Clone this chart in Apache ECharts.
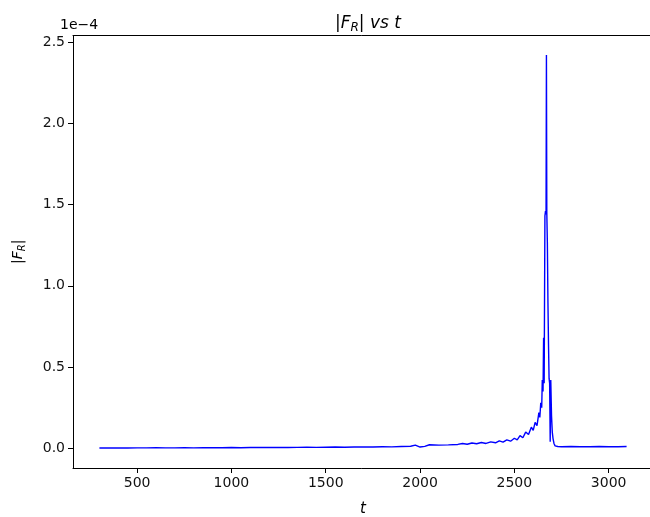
<!DOCTYPE html>
<html>
<head>
<meta charset="utf-8">
<script src="https://cdn.jsdelivr.net/npm/echarts@6/dist/echarts.min.js"></script>
<style>html,body{margin:0;padding:0;background:#fff;overflow:hidden}#c{width:650px;height:517px}</style>
</head>
<body>
<div id="c"></div>
<script>
// t values and |F_R| values (in units of 1e-4)
const tValues = [300,350,400,450,500,550,600,650,700,750,800,850,900,950,1000,1050,1100,1150,1200,1250,1300,1350,1400,1450,1500,1550,1600,1650,1700,1750,1800,1850,1900,1950,1975,2000,2025,2050,2100,2150,2200,2225,2250,2275,2300,2325,2350,2375,2400,2420,2440,2460,2480,2500,2515,2530,2545,2560,2575,2590,2600,2610,2620,2630,2635,2640,2645,2648,2652,2655,2658,2662,2665,2668,2670,2672,2675,2678,2681,2684,2687,2690,2693,2697,2701,2705,2710,2716,2722,2730,2750,2800,2850,2900,2950,3000,3050,3095];
const fValues = [0.002,0.002,0.003,0.002,0.003,0.003,0.004,0.003,0.003,0.004,0.003,0.004,0.004,0.004,0.005,0.004,0.005,0.005,0.005,0.006,0.005,0.006,0.007,0.006,0.007,0.008,0.007,0.008,0.009,0.008,0.010,0.009,0.011,0.013,0.020,0.008,0.012,0.022,0.020,0.021,0.024,0.030,0.025,0.033,0.028,0.036,0.030,0.040,0.034,0.046,0.038,0.052,0.044,0.062,0.052,0.078,0.065,0.100,0.085,0.130,0.110,0.160,0.140,0.220,0.190,0.280,0.250,0.420,0.350,0.680,0.400,1.430,1.460,1.440,2.420,1.450,1.260,0.900,0.640,0.430,0.400,0.040,0.420,0.200,0.100,0.060,0.030,0.015,0.012,0.011,0.010,0.011,0.010,0.010,0.011,0.010,0.010,0.011];
const xTicks = [500,1000,1500,2000,2500,3000];
const yTicks = [0,0.5,1.0,1.5,2.0,2.5];
const titleText = '{n||}{i|F}{s|R}{n||} {i|vs t}';
const offsetText = '1e\u22124';

const data = tValues.map((t, i) => [t, fValues[i]]);
const font = 'DejaVu Sans';
const chart = echarts.init(document.getElementById('c'), null, {renderer: 'canvas'});
chart.setOption({
  animation: false,
  backgroundColor: '#fff',
  title: {
    text: titleText,
    left: 363, top: 9, textAlign: 'center',
    textStyle: {
      fontFamily: font, fontSize: 17, fontWeight: 'normal', color: '#000',
      rich: {
        n: {fontFamily: font, fontSize: 17, fontWeight: 'normal', color: '#000'},
        i: {fontFamily: font, fontSize: 17, fontWeight: 'normal', fontStyle: 'italic', color: '#000'},
        s: {fontFamily: font, fontSize: 12, fontWeight: 'normal', fontStyle: 'italic', color: '#000', padding: [8, 0, 0, 0]}
      }
    }
  },
  graphic: [{
    type: 'text', left: 60, top: 18,
    style: {text: offsetText, font: '14px "DejaVu Sans"', fill: '#000'}
  }],
  grid: {left: 73, top: 35.5, right: -3, bottom: 49, show: false, containLabel: false, outerBoundsMode: 'none'},
  xAxis: [{
    type: 'value', min: 160, max: 3235,
    name: 't', nameLocation: 'middle', nameGap: 34,
    nameTextStyle: {fontFamily: font, fontSize: 15, fontStyle: 'italic', color: '#000'},
    axisLine: {show: true, onZero: false, lineStyle: {color: '#000', width: 1}},
    axisTick: {show: true, length: 5, customValues: xTicks, lineStyle: {color: '#000'}},
    axisLabel: {customValues: xTicks, fontFamily: font, fontSize: 14, color: '#111', margin: 8,
      formatter: v => String(v)},
    splitLine: {show: false}
  }, {
    type: 'value', min: 160, max: 3235, position: 'top',
    axisLine: {show: true, onZero: false, lineStyle: {color: '#000', width: 1}},
    axisTick: {show: false}, axisLabel: {show: false}, splitLine: {show: false}
  }],
  yAxis: {
    type: 'value', min: -0.121, max: 2.54,
    name: '{n||}{i|F}{s|R}{n||}', nameLocation: 'middle', nameGap: 46,
    nameTextStyle: {
      fontFamily: font, fontSize: 14, color: '#000',
      rich: {
        n: {fontFamily: font, fontSize: 14, color: '#000'},
        i: {fontFamily: font, fontSize: 14, fontStyle: 'italic', color: '#000'},
        s: {fontFamily: font, fontSize: 10, fontStyle: 'italic', color: '#000', padding: [7, 0, 0, 0]}
      }
    },
    axisLine: {show: true, onZero: false, lineStyle: {color: '#000', width: 1}},
    axisTick: {show: true, length: 5, customValues: yTicks, lineStyle: {color: '#000'}},
    axisLabel: {customValues: yTicks, fontFamily: font, fontSize: 14, color: '#111', margin: 8,
      formatter: v => v.toFixed(1)},
    splitLine: {show: false}
  },
  series: [{
    type: 'line', data: data, showSymbol: false, symbol: 'none',
    lineStyle: {color: '#0000ff', width: 1.4}, z: 3
  }]
});
</script>
</body>
</html>
